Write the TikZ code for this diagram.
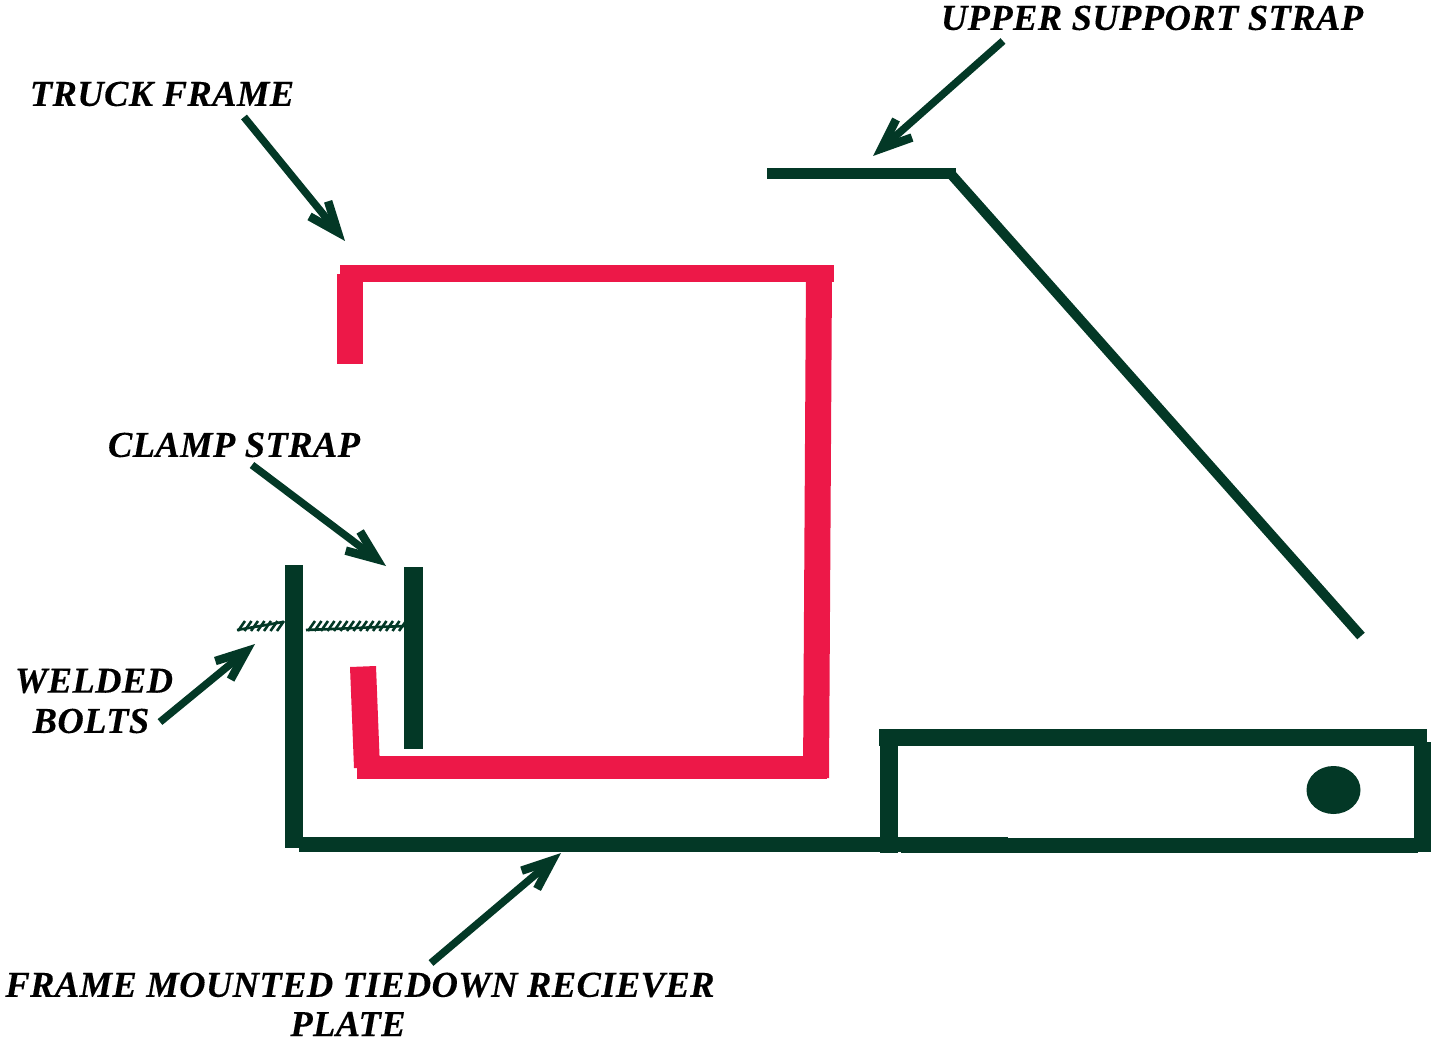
\documentclass[tikz,border=0pt]{standalone}
\usepackage{fontspec}
\setmainfont{Liberation Serif}[LetterSpace=1.1,FakeBold=0.25]
\usetikzlibrary{arrows.meta}
\definecolor{darkg}{HTML}{033826}
\definecolor{redf}{HTML}{ED1848}
\tikzset{
 lbl/.style={font=\fontsize{36.5}{40}\selectfont\bfseries\itshape,text=black,inner sep=0pt,anchor=center},
 red part/.style={fill=redf,draw=none},
 dark part/.style={fill=darkg,draw=none},
 pointer/.style={draw=darkg,line width=7.5pt,-{Straight Barb[length=30pt,width=24pt,line width=8.5pt,line cap=butt,line join=miter]}},
 bolt/.style={draw=darkg,line width=2.6pt}
}
\begin{document}
\begin{tikzpicture}[x=1pt,y=-1pt]
\useasboundingbox (0,0) rectangle (1432,1040);
% red frame
\fill[red part] (340,265) rectangle (834,282);
\fill[red part] (337,274) rectangle (363,364);
\fill[red part] (806,274) -- (832,274) -- (829,778) -- (803,778) -- cycle;
\fill[red part] (357,756) rectangle (827,779);
\fill[red part] (350,667) -- (376,666) -- (380,768) -- (354,768) -- cycle;
% dark parts
\fill[dark part] (285,565) rectangle (303,848);
\fill[dark part] (404,567) rectangle (423,749);
\fill[dark part] (299,836.5) rectangle (1008,852);
\fill[dark part] (901,838) rectangle (1418,853);
\fill[dark part] (879,729) rectangle (1427,746);
\fill[dark part] (880,740) rectangle (898,853);
\fill[dark part] (1414,742) rectangle (1431,852);
\fill[dark part] (1333.5,790) ellipse [x radius=27,y radius=24];
% upper strap
\fill[dark part] (767,168) rectangle (956,179);
\draw[darkg,line width=10pt] (950,173) -- (1361,636);
% bolts
\draw[bolt] (237,630) -- (283,622);
\draw[bolt] (306,630) -- (405,626);
\foreach \x in {238,244.5,...,280}{\draw[bolt] (\x,631) -- (\x+7,621);}
\foreach \x in {308,314.5,...,399}{\draw[bolt] (\x,631) -- (\x+7,621);}
% labels
\node[lbl] (truck) at (162,94) {TRUCK FRAME};
\node[lbl] (upper) at (1152,18) {UPPER SUPPORT STRAP};
\node[lbl] (clamp) at (234,445) {CLAMP STRAP};
\node[lbl] (welded) at (94,681) {WELDED};
\node[lbl] (boltsl) at (91,721) {BOLTS};
\node[lbl] (plate1) at (360,985) {FRAME MOUNTED TIEDOWN RECIEVER};
\node[lbl] (plate2) at (348,1024) {PLATE};
% arrows
\coordinate (a1) at (244,117); \coordinate (b1) at (345,241);
\coordinate (a2) at (1003,41); \coordinate (b2) at (873,156);
\coordinate (a3) at (252,465); \coordinate (b3) at (386,566);
\coordinate (a4) at (160,722); \coordinate (b4) at (255,644);
\coordinate (a5) at (431,963); \coordinate (b5) at (561,853);
\draw[pointer] (a1) -- (b1);
\draw[pointer] (a2) -- (b2);
\draw[pointer] (a3) -- (b3);
\draw[pointer] (a4) -- (b4);
\draw[pointer] (a5) -- (b5);
\end{tikzpicture}
\end{document}
